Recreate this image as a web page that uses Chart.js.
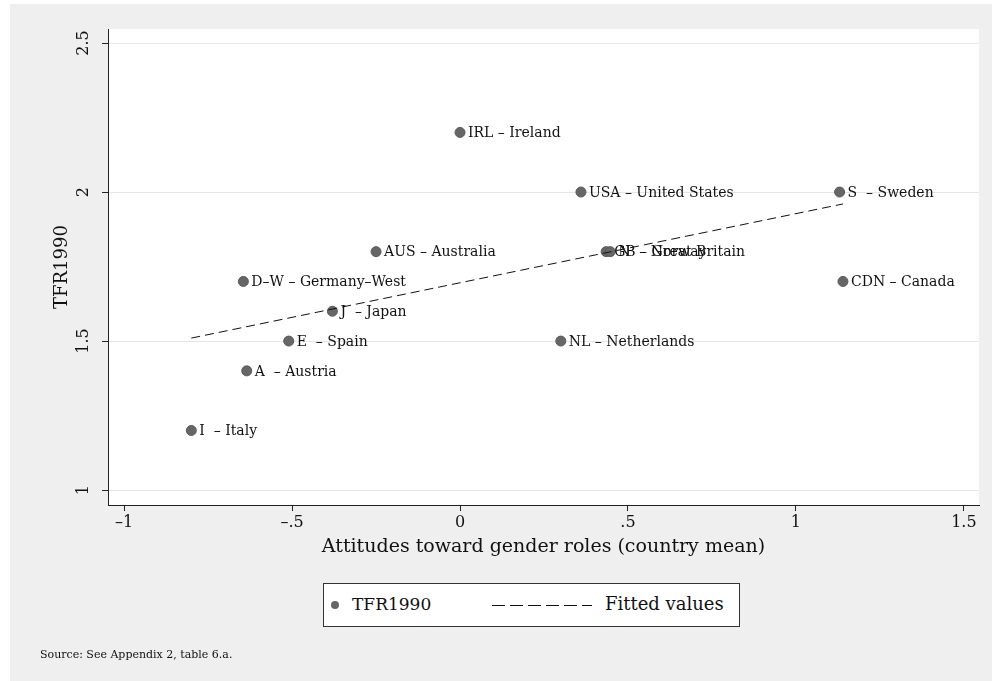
<!DOCTYPE html>
<html>
<head>
<meta charset="utf-8">
<script src="https://cdn.jsdelivr.net/npm/chart.js@4.4.1/dist/chart.umd.min.js"></script>
<style>
    html, body { margin: 0; padding: 0; background: #fff; }
    #frame {
        position: absolute; left: 10px; top: 4px; right: 0; bottom: 0;
        background: #efefef;
    }
    #wrap { position: absolute; left: 0; top: 0; width: 992px; height: 681px; }
    #legendBox {
        position: absolute; left: 323px; top: 583px; width: 415px; height: 42px;
        background: #fff; border: 1px solid #333;
        font-family: "DejaVu Serif", serif; font-size: 17px; color: #111;
    }
    #legendBox .dot {
        position: absolute; left: 7px; top: 17px; width: 8px; height: 8px;
        border-radius: 50%; background: #666;
    }
    #legendBox .lbl1 { position: absolute; left: 28px; top: 10px; }
    #legendBox .dash {
        position: absolute; left: 168px; top: 21px; width: 100px; height: 1px;
        background: repeating-linear-gradient(to right, #111 0 13px, transparent 13px 18px);
    }
    #legendBox .lbl2 { position: absolute; left: 281px; top: 9px; font-size: 18px; }
    #source {
        position: absolute; left: 40px; top: 648px;
        font-family: "DejaVu Serif", serif; font-size: 11px; color: #111;
    }
</style>
</head>
<body>
<div id="frame"></div>
<div id="wrap">
    <canvas id="chart" width="992" height="681"></canvas>
    <div id="legendBox">
        <span class="dot"></span><span class="lbl1">TFR1990</span>
        <span class="dash"></span><span class="lbl2">Fitted values</span>
    </div>
    <div id="source">Source: See Appendix 2, table 6.a.</div>
</div>
<script>
// Data
const countryLabels = [
    'IRL \u2013 Ireland', 'USA \u2013 United States', 'S  \u2013 Sweden', 'AUS \u2013 Australia',
    'GB \u2013 Great Britain', 'N  \u2013 Norway', 'D\u2013W \u2013 Germany\u2013West', 'CDN \u2013 Canada',
    'J  \u2013 Japan', 'E  \u2013 Spain', 'NL \u2013 Netherlands', 'A  \u2013 Austria', 'I  \u2013 Italy'
];
const attitudes = [0.00, 0.36, 1.13, -0.25, 0.435, 0.447, -0.645, 1.14, -0.38, -0.51, 0.30, -0.635, -0.80];
const tfr1990 = [2.2, 2.0, 2.0, 1.8, 1.8, 1.8, 1.7, 1.7, 1.6, 1.5, 1.5, 1.4, 1.2];

const fittedX = [-0.80, 1.14];
const fittedY = [1.51, 1.96];

const xTicks = [-1, -0.5, 0, 0.5, 1, 1.5];
const yTicks = [1, 1.5, 2, 2.5];

const serif = '"DejaVu Serif", "Liberation Serif", serif';

// Stata style number: drop the leading zero, long minus
function stataNum(v) {
    let s = String(v);
    if (s.startsWith('0.')) s = s.slice(1);
    if (s.startsWith('-0.')) s = '-' + s.slice(2);
    return s.replace('-', '\u2013');
}

// White plot region
const plotBg = {
    id: 'plotBg',
    beforeDraw(chart) {
        const { ctx, chartArea: a } = chart;
        ctx.save();
        ctx.fillStyle = '#ffffff';
        ctx.fillRect(a.left, a.top, a.right - a.left, a.bottom - a.top);
        ctx.restore();
    }
};

// Country labels next to each marker
const pointLabels = {
    id: 'pointLabels',
    afterDatasetsDraw(chart) {
        const { ctx } = chart;
        const meta = chart.getDatasetMeta(1);
        ctx.save();
        ctx.font = '14px ' + serif;
        ctx.fillStyle = '#111';
        ctx.textBaseline = 'middle';
        meta.data.forEach((pt, i) => {
            ctx.fillText(countryLabels[i], pt.x + 8, pt.y + 1);
        });
        ctx.restore();
    }
};

const points = attitudes.map((x, i) => ({ x: x, y: tfr1990[i] }));
const fitted = fittedX.map((x, i) => ({ x: x, y: fittedY[i] }));

new Chart(document.getElementById('chart'), {
    type: 'scatter',
    data: {
        datasets: [{
            label: 'Fitted values',
            data: fitted,
            type: 'line',
            showLine: true,
            borderColor: '#111',
            borderWidth: 1,
            borderDash: [9, 5],
            pointRadius: 0,
            fill: false
        }, {
            label: 'TFR1990',
            data: points,
            backgroundColor: '#666',
            borderColor: '#5a5a5a',
            borderWidth: 1,
            pointRadius: 5
        }]
    },
    options: {
        responsive: false,
        animation: false,
        layout: { padding: { left: 48, right: 13, top: 29, bottom: 115 } },
        plugins: {
            legend: { display: false },
            tooltip: { enabled: false }
        },
        scales: {
            x: {
                type: 'linear',
                min: -1.048,
                max: 1.545,
                afterBuildTicks: s => { s.ticks = xTicks.map(v => ({ value: v })); },
                afterFit: s => { s.height = 61; },
                border: { color: '#222', width: 1 },
                grid: { drawOnChartArea: false, tickLength: 6, tickColor: '#222' },
                ticks: {
                    padding: 2,
                    color: '#111',
                    font: { family: serif, size: 16 },
                    callback: v => stataNum(v)
                },
                title: {
                    display: true,
                    text: 'Attitudes toward gender roles (country mean)',
                    color: '#111',
                    font: { family: serif, size: 19 },
                    padding: { top: 0, bottom: 8 }
                }
            },
            y: {
                type: 'linear',
                min: 0.95,
                max: 2.547,
                afterBuildTicks: s => { s.ticks = yTicks.map(v => ({ value: v })); },
                afterFit: s => { s.width = 60; },
                border: { color: '#222', width: 1 },
                grid: { color: '#e6e6e6', tickLength: 6, tickColor: '#222' },
                ticks: {
                    padding: 5,
                    minRotation: 90,
                    maxRotation: 90,
                    crossAlign: 'center',
                    color: '#111',
                    font: { family: serif, size: 16 },
                    callback: v => stataNum(v)
                },
                title: {
                    display: true,
                    text: 'TFR1990',
                    color: '#111',
                    font: { family: serif, size: 18 },
                    padding: { top: 4, bottom: 0 }
                }
            }
        }
    },
    plugins: [plotBg, pointLabels]
});
</script>
</body>
</html>
